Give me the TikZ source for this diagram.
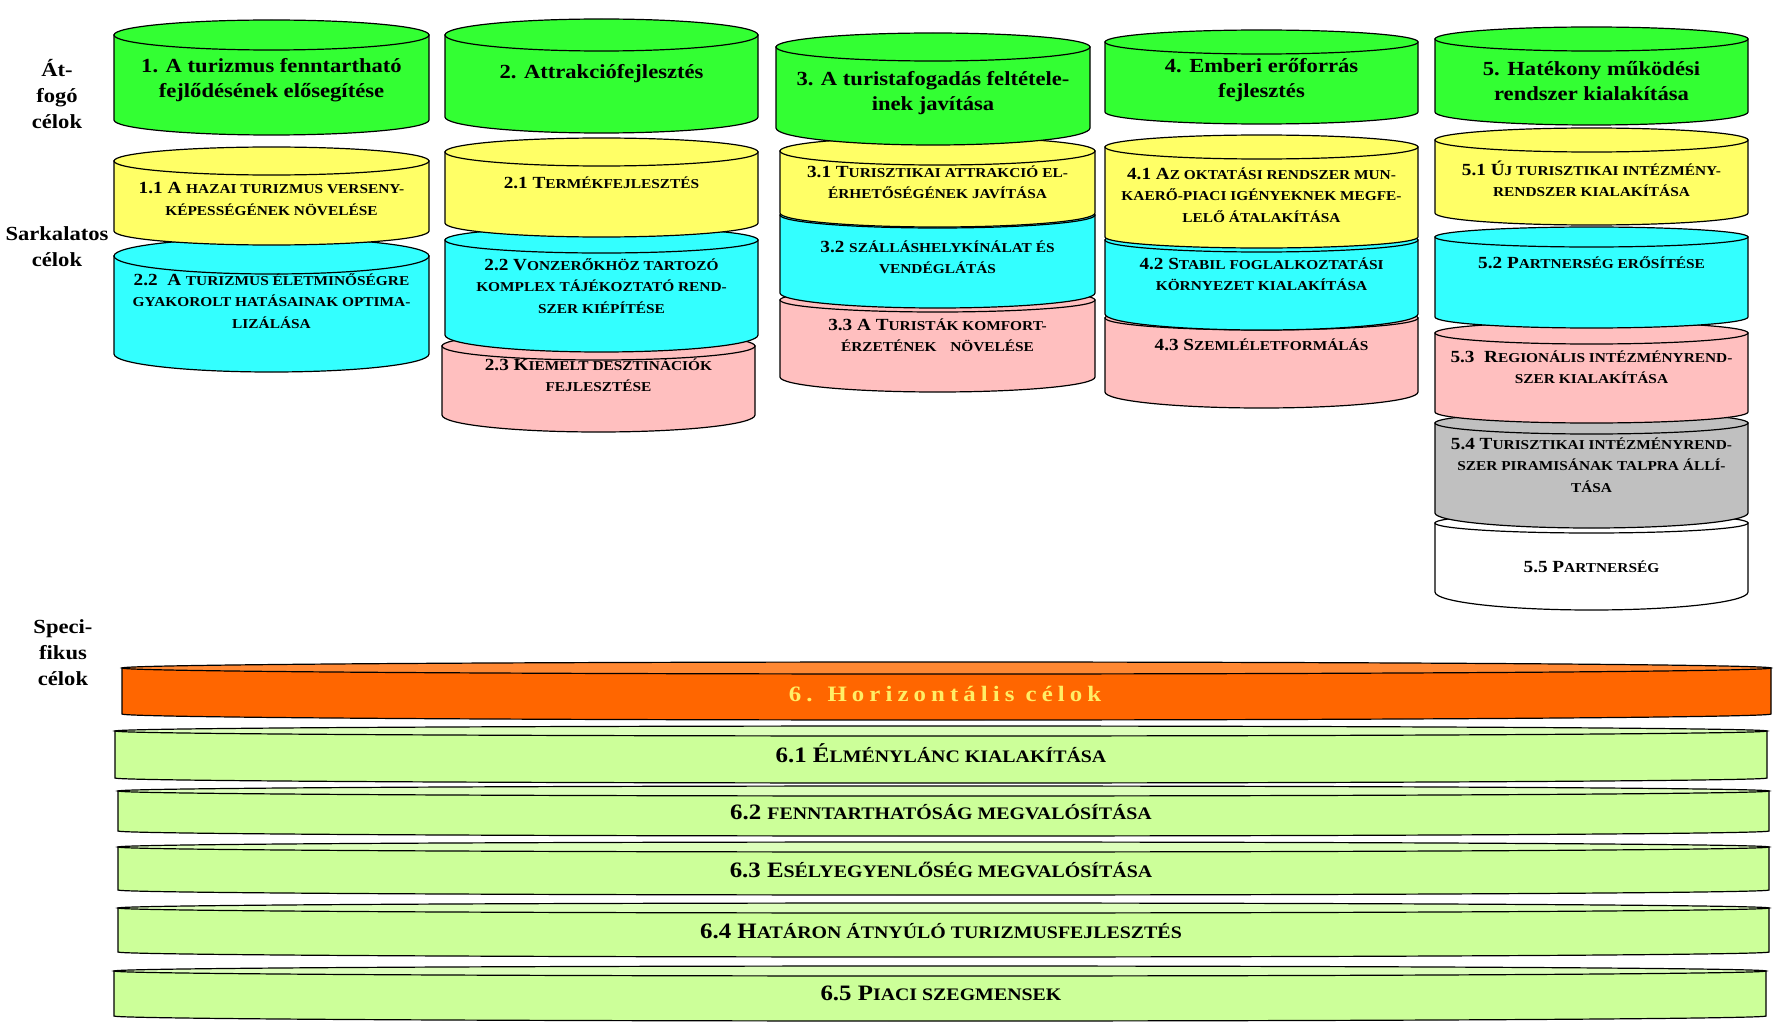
\documentclass[tikz,border=0pt]{standalone}
\usepackage{fontspec}
\setmainfont{Liberation Serif}[FakeStretch=1.13]
\definecolor{cgreen}{HTML}{33FF33}
\definecolor{cyellow}{HTML}{FFFF66}
\definecolor{ccyan}{HTML}{33FFFF}
\definecolor{cpink}{HTML}{FFBFBF}
\definecolor{cgray}{HTML}{C0C0C0}
\definecolor{corange}{HTML}{FF6600}
\definecolor{corangetop}{HTML}{FF8833}
\definecolor{clgreen}{HTML}{CCFF99}
\definecolor{clgreentop}{HTML}{DDFFBB}
\definecolor{ctitle}{HTML}{FFEE66}
\makeatletter
\newcommand\smc[1]{{\fontsize{\the\dimexpr\f@size pt*4/5\relax}{\f@baselineskip}\selectfont #1}}
\makeatother
% #1 x1, #2 x2, #3 y top centre, #4 top ry, #5 y bottom centre, #6 bottom ry, #7 body fill, #8 top fill
\newcommand\cyl[8]{%
  \pgfmathsetmacro\cylcx{(#1+#2)/2}%
  \pgfmathsetmacro\cylrx{(#2-#1)/2}%
  \filldraw[fill=#7] (#1,#3) -- (#1,#5) arc[start angle=180,end angle=0,x radius=\cylrx,y radius=#6] -- (#2,#3) -- cycle;
  \filldraw[fill=#8] (\cylcx,#3) ellipse[x radius=\cylrx,y radius=#4];
}
\tikzset{
  txt/.style={align=center,inner sep=0pt,anchor=north,text=black,
    execute at begin node=\strut,execute at end node=\strut},
  main/.style={txt,font=\fontsize{20}{25}\selectfont\bfseries},
  sub/.style={txt,font=\fontsize{17}{21.5}\selectfont\bfseries},
  side/.style={txt,font=\fontsize{20}{26}\selectfont\bfseries},
  bar/.style={inner sep=0pt,anchor=base,font=\fontsize{22}{26}\selectfont\bfseries},
}
\begin{document}
\begin{tikzpicture}[x=1pt,y=-1pt,line width=1.2pt,draw=black]
\useasboundingbox (0,0) rectangle (1786,1030);
% column 1
\cyl{114}{429}{256}{18}{354}{18}{ccyan}{ccyan}
\cyl{114}{429}{161}{14}{231}{14}{cyellow}{cyellow}
\cyl{114}{429}{35}{15}{120}{15}{cgreen}{cgreen}
% column 2
\cyl{442}{755}{346}{14}{415}{17}{cpink}{cpink}
\cyl{445}{758}{240}{13}{335}{17}{ccyan}{ccyan}
\cyl{445}{758}{152}{14}{223}{14}{cyellow}{cyellow}
\cyl{445}{758}{35}{16}{117}{16}{cgreen}{cgreen}
% column 3
\cyl{780}{1095}{300}{12}{377}{15}{cpink}{cpink}
\cyl{780}{1095}{215}{13}{293}{15}{ccyan}{ccyan}
\cyl{780}{1095}{151}{14}{213}{14}{cyellow}{cyellow}
\cyl{776}{1090}{47}{14}{128}{17}{cgreen}{cgreen}
% column 4
\cyl{1105}{1418}{318}{12}{392}{16}{cpink}{cpink}
\cyl{1105}{1418}{240}{12}{314}{16}{ccyan}{ccyan}
\cyl{1105}{1418}{147}{12}{237}{11}{cyellow}{cyellow}
\cyl{1105}{1418}{42}{12}{112}{12}{cgreen}{cgreen}
% column 5
\cyl{1435}{1748}{523}{10}{592}{18}{white}{white}
\cyl{1435}{1748}{423}{11}{513}{15}{cgray}{cgray}
\cyl{1435}{1748}{333}{11}{412}{11}{cpink}{cpink}
\cyl{1435}{1748}{237}{10}{317}{11}{ccyan}{ccyan}
\cyl{1435}{1748}{140}{12}{213}{12}{cyellow}{cyellow}
\cyl{1435}{1748}{39}{12}{112}{13}{cgreen}{cgreen}
% horizontal bars
\cyl{114}{1766}{971}{5}{1016}{5}{clgreen}{clgreentop}
\cyl{118}{1769}{908}{5}{952}{5}{clgreen}{clgreentop}
\cyl{118}{1769}{847}{5}{890}{5}{clgreen}{clgreentop}
\cyl{118}{1769}{791}{5}{831}{5}{clgreen}{clgreentop}
\cyl{115}{1767}{731}{5}{778}{5}{clgreen}{clgreentop}
\cyl{122}{1771}{668}{6}{714}{6}{corange}{corangetop}

% side labels
\node[side] (lab1) at (57,59) {Át-\\fogó\\célok};
\node[side] (lab2) at (57,226) {Sarkalatos\\célok};
\node[side] (lab3) at (63,619) {Speci-\\fikus\\célok};

% main goals
\node[main] (g1) at (271.5,57.5) {1. A turizmus fenntartható\\fejlődésének elősegítése};
\node[main] (g2) at (601.5,60.5) {2. Attrakciófejlesztés};
\node[main] (g3) at (933,70.5) {3. A turistafogadás feltétele-\\inek javítása};
\node[main] (g4) at (1261.5,57.5) {4. Emberi erőforrás\\fejlesztés};
\node[main] (g5) at (1591.5,60.5) {5. Hatékony működési\\rendszer kialakítása};

% sub goals
\node[sub] (s11) at (271.5,182) {1.1 A \smc{HAZAI TURIZMUS VERSENY-}\\\smc{KÉPESSÉGÉNEK NÖVELÉSE}};
\node[sub] (s12) at (271.5,273) {2.2~ A \smc{TURIZMUS ÉLETMINŐSÉGRE}\\\smc{GYAKOROLT HATÁSAINAK OPTIMA-}\\\smc{LIZÁLÁSA}};
\node[sub] (s21) at (601.5,173) {2.1 T\smc{ERMÉKFEJLESZTÉS}};
\node[sub] (s22) at (601.5,258) {2.2 V\smc{ONZERŐKHÖZ TARTOZÓ}\\\smc{KOMPLEX TÁJÉKOZTATÓ REND-}\\\smc{SZER KIÉPÍTÉSE}};
\node[sub] (s23) at (598.5,358) {2.3 K\smc{IEMELT DESZTINÁCIÓK}\\\smc{FEJLESZTÉSE}};
\node[sub] (s31) at (937.5,165) {3.1 T\smc{URISZTIKAI ATTRAKCIÓ EL-}\\\smc{ÉRHETŐSÉGÉNEK JAVÍTÁSA}};
\node[sub] (s32) at (937.5,240) {3.2 \smc{SZÁLLÁSHELYKÍNÁLAT ÉS}\\\smc{VENDÉGLÁTÁS}};
\node[sub] (s33) at (937.5,318) {3.3 A T\smc{URISTÁK KOMFORT-}\\\smc{ÉRZETÉNEK\quad NÖVELÉSE}};
\node[sub] (s41) at (1261.5,167) {4.1 A\smc{Z OKTATÁSI RENDSZER MUN-}\\\smc{KAERŐ-PIACI IGÉNYEKNEK MEGFE-}\\\smc{LELŐ ÁTALAKÍTÁSA}};
\node[sub] (s42) at (1261.5,257) {4.2 S\smc{TABIL FOGLALKOZTATÁSI}\\\smc{KÖRNYEZET KIALAKÍTÁSA}};
\node[sub] (s43) at (1261.5,335) {4.3 S\smc{ZEMLÉLETFORMÁLÁS}};
\node[sub] (s51) at (1591.5,160) {5.1 Ú\smc{J TURISZTIKAI INTÉZMÉNY-}\\\smc{RENDSZER KIALAKÍTÁSA}};
\node[sub] (s52) at (1591.5,253) {5.2 P\smc{ARTNERSÉG ERŐSÍTÉSE}};
\node[sub] (s53) at (1591.5,350) {5.3~ R\smc{EGIONÁLIS INTÉZMÉNYREND-}\\\smc{SZER KIALAKÍTÁSA}};
\node[sub] (s54) at (1591.5,437) {5.4 T\smc{URISZTIKAI INTÉZMÉNYREND-}\\\smc{SZER PIRAMISÁNAK TALPRA ÁLLÍ-}\\\smc{TÁSA}};
\node[sub] (s55) at (1591.5,557) {5.5 P\smc{ARTNERSÉG}};

% horizontal goals
\node[bar,text=ctitle] (h6) at (945,701) {\addfontfeature{LetterSpace=23}6. Horizontális célok};
\node[bar] (h61) at (941,762) {6.1 É\smc{LMÉNYLÁNC KIALAKÍTÁSA}};
\node[bar] (h62) at (941,819) {6.2 \smc{FENNTARTHATÓSÁG MEGVALÓSÍTÁSA}};
\node[bar] (h63) at (941,877) {6.3 E\smc{SÉLYEGYENLŐSÉG MEGVALÓSÍTÁSA}};
\node[bar] (h64) at (941,938) {6.4 H\smc{ATÁRON ÁTNYÚLÓ TURIZMUSFEJLESZTÉS}};
\node[bar] (h65) at (941,1000) {6.5 P\smc{IACI SZEGMENSEK}};
\end{tikzpicture}
\end{document}
